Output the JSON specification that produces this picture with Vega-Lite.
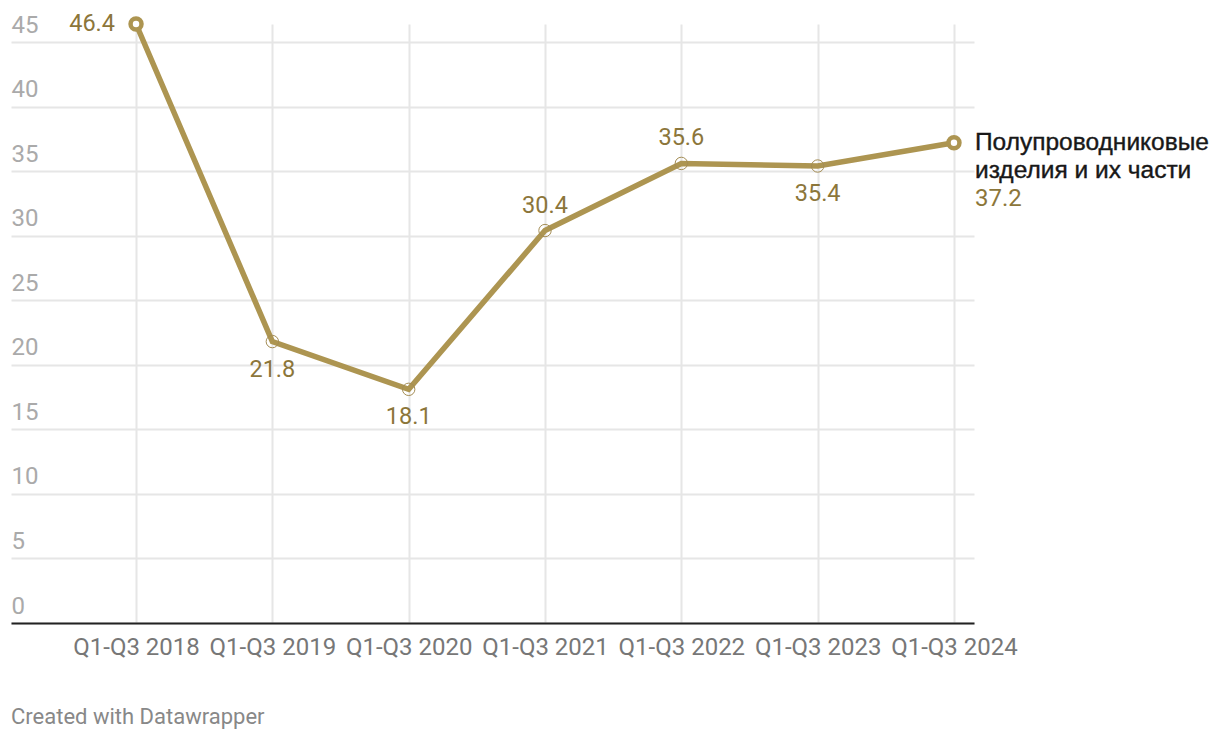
{
  "$schema": "https://vega.github.io/schema/vega-lite/v6.json",
  "width": 963,
  "height": 599,
  "padding": {"left": 11, "top": 24, "right": 246, "bottom": 117},
  "autosize": {"type": "none"},
  "background": "white",
  "config": {"view": {"stroke": null}, "font": "Roboto"},
  "title": {"text": "Created with Datawrapper", "orient": "bottom", "anchor": "start", "frame": "group", "fontSize": 22, "fontWeight": "normal", "color": "#888888", "offset": 48, "font": "Roboto"},
  "data": {"values": [
    {"period": "Q1-Q3 2018", "value": 46.4, "series": "Полупроводниковые\nизделия и их части"},
    {"period": "Q1-Q3 2019", "value": 21.8, "series": "Полупроводниковые\nизделия и их части"},
    {"period": "Q1-Q3 2020", "value": 18.1, "series": "Полупроводниковые\nизделия и их части"},
    {"period": "Q1-Q3 2021", "value": 30.4, "series": "Полупроводниковые\nизделия и их части"},
    {"period": "Q1-Q3 2022", "value": 35.6, "series": "Полупроводниковые\nизделия и их части"},
    {"period": "Q1-Q3 2023", "value": 35.4, "series": "Полупроводниковые\nизделия и их части"},
    {"period": "Q1-Q3 2024", "value": 37.2, "series": "Полупроводниковые\nизделия и их части"}
  ]},
  "encoding": {
    "x": {
      "field": "period", "type": "ordinal",
      "scale": {"type": "point", "padding": 0.532, "align": 0.862},
      "axis": {
        "title": null, "labelAngle": 0, "labelFontSize": 24, "labelColor": "#777777", "labelFont": "Roboto",
        "labelPadding": 12, "ticks": false, "tickSize": 0, "domain": true, "domainColor": "#222222", "domainWidth": 2,
        "grid": true, "gridColor": "#e6e6e6", "gridWidth": 2, "labelOverlap": false
      }
    },
    "y": {
      "field": "value", "type": "quantitative",
      "scale": {"domain": [0, 46.4], "nice": false, "zero": true},
      "axis": {
        "title": null, "values": [0, 5, 10, 15, 20, 25, 30, 35, 40, 45], "domain": false, "ticks": false, "tickSize": 0,
        "labelAlign": "left", "labelPadding": 0, "labelBaseline": "alphabetic", "labelOffset": -10,
        "labelFontSize": 24, "labelColor": "#aaaaaa", "labelFont": "Roboto",
        "grid": true, "gridColor": "#e6e6e6", "gridWidth": 2
      }
    }
  },
  "layer": [
    {"mark": {"type": "line", "color": "#ad9551", "strokeWidth": 5.5}},
    {
      "transform": [{"filter": "datum.period != 'Q1-Q3 2018' && datum.period != 'Q1-Q3 2024'"}],
      "mark": {"type": "point", "shape": "circle", "filled": false, "stroke": "#a48d55", "strokeWidth": 1, "size": 154, "opacity": 1}
    },
    {
      "transform": [{"filter": "datum.period == 'Q1-Q3 2018' || datum.period == 'Q1-Q3 2024'"}],
      "mark": {"type": "point", "shape": "circle", "filled": false, "fill": "white", "fillOpacity": 1, "stroke": "#ad9551", "strokeWidth": 4.5, "size": 120, "opacity": 1}
    },
    {
      "transform": [{"filter": "datum.period == 'Q1-Q3 2021' || datum.period == 'Q1-Q3 2022'"}],
      "mark": {"type": "text", "dy": -25, "baseline": "middle", "align": "center", "fontSize": 23.5, "color": "#8c763a", "font": "Roboto"},
      "encoding": {"text": {"field": "value", "type": "quantitative", "format": ".1f"}}
    },
    {
      "transform": [{"filter": "datum.period == 'Q1-Q3 2019' || datum.period == 'Q1-Q3 2020' || datum.period == 'Q1-Q3 2023'"}],
      "mark": {"type": "text", "dy": 28, "baseline": "middle", "align": "center", "fontSize": 23.5, "color": "#8c763a", "font": "Roboto"},
      "encoding": {"text": {"field": "value", "type": "quantitative", "format": ".1f"}}
    },
    {
      "transform": [{"filter": "datum.period == 'Q1-Q3 2018'"}],
      "mark": {"type": "text", "dx": -21, "dy": 0, "baseline": "middle", "align": "right", "fontSize": 23.5, "color": "#8c763a", "font": "Roboto"},
      "encoding": {"text": {"field": "value", "type": "quantitative", "format": ".1f"}}
    },
    {
      "transform": [{"filter": "datum.period == 'Q1-Q3 2024'"}],
      "mark": {"type": "text", "dx": 21, "dy": 7, "baseline": "alphabetic", "align": "left", "fontSize": 24.5, "color": "#181818", "stroke": "#181818", "strokeWidth": 0.4, "font": "Liberation Sans", "lineBreak": "\n", "lineHeight": 28},
      "encoding": {"text": {"field": "series", "type": "nominal"}}
    },
    {
      "transform": [{"filter": "datum.period == 'Q1-Q3 2024'"}],
      "mark": {"type": "text", "dx": 21, "dy": 63, "baseline": "alphabetic", "align": "left", "fontSize": 24, "color": "#8c763a", "font": "Roboto"},
      "encoding": {"text": {"field": "value", "type": "quantitative", "format": ".1f"}}
    }
  ]
}
